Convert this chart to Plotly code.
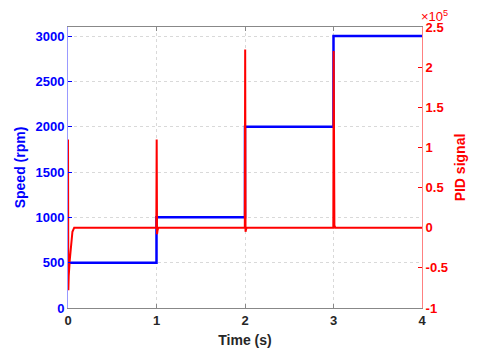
import plotly.graph_objects as go

# speed reference steps (rpm)
speed_t = [0, 1, 2, 3, 4]
speed_rpm = [500, 1000, 2000, 3000, 3000]

# PID controller output (raw units, axis shown in 1e5)
pid_t = [0, 0.004, 0.008, 0.02, 0.034, 0.05, 0.07, 0.998, 1.002, 1.006, 1.012, 1.02,
         1.998, 2.002, 2.006, 2.012, 2.02, 2.998, 3.002, 3.01, 3.02, 4.0]
pid_val = [1.1e5, -0.78e5, -0.6e5, -0.4e5, -0.2e5, -0.05e5, 0, 0, 1.1e5, -0.08e5, -0.03e5, 0,
           0, 2.22e5, -0.05e5, -0.02e5, 0, 0, 2.2e5, 0.03e5, 0, 0]

pid_ticks = [-1e5, -0.5e5, 0, 0.5e5, 1e5, 1.5e5, 2e5, 2.5e5]
pid_ticktext = ['-1', '-0.5', '0', '0.5', '1', '1.5', '2', '2.5']

fnt = "Liberation Sans, Arial, sans-serif"

fig = go.Figure()

fig.add_trace(go.Scatter(
    x=speed_t, y=speed_rpm, mode='lines', line_shape='hv',
    line=dict(color='#0000ff', width=2.5), showlegend=False
))

fig.add_trace(go.Scatter(
    x=pid_t, y=pid_val, mode='lines', yaxis='y2',
    line=dict(color='#ff0000', width=2), showlegend=False
))

# page body has an 8px margin, so margins are offset to land the axes where they should
fig.update_layout(
    width=480, height=352,
    paper_bgcolor='white', plot_bgcolor='white',
    margin=dict(l=59, r=66, t=16, b=52),
    font=dict(family=fnt, size=12),
    xaxis=dict(
        range=[0, 4], tickvals=[0, 1, 2, 3, 4],
        showgrid=True, gridcolor='#d9d9d9', griddash='dot', gridwidth=1,
        zeroline=False, showline=True, linecolor='#888888', mirror='ticks',
        ticks='inside', ticklen=4, tickcolor='#888888',
        tickfont=dict(family=fnt, size=13, color='#262626', weight='bold'),
        title=dict(text='Time (s)', font=dict(family=fnt, size=14, color='#262626', weight='bold'),
                   standoff=8),
    ),
    yaxis=dict(
        range=[0, 3100], tickvals=[0, 500, 1000, 1500, 2000, 2500, 3000],
        showgrid=True, gridcolor='#d9d9d9', griddash='dot', gridwidth=1,
        zeroline=False, showline=True, linecolor='#9999ff',
        ticks='inside', ticklen=4, tickcolor='#0000ff',
        tickfont=dict(family=fnt, size=13, color='#0000ff', weight='bold'),
        title=dict(text='Speed (rpm)', font=dict(family=fnt, size=14, color='#0000ff', weight='bold'),
                   standoff=6),
    ),
    yaxis2=dict(
        overlaying='y', side='right',
        range=[-1e5, 2.5e5], tickvals=pid_ticks, ticktext=pid_ticktext,
        showgrid=False, zeroline=False, showline=True, linecolor='#ff8080',
        ticks='inside', ticklen=4, tickcolor='#ff0000',
        tickfont=dict(family=fnt, size=13, color='#ff0000', weight='bold'),
        title=dict(text='PID signal', font=dict(family=fnt, size=14, color='#ff0000', weight='bold'),
                   standoff=8),
    ),
    annotations=[dict(
        text='×10<sup>5</sup>', xref='paper', yref='paper', x=1, y=1,
        xanchor='left', yanchor='bottom', showarrow=False, xshift=-2, yshift=2,
        borderpad=0, font=dict(family=fnt, size=13, color='#ff0000'),
    )],
)

fig.write_html("out.html")
